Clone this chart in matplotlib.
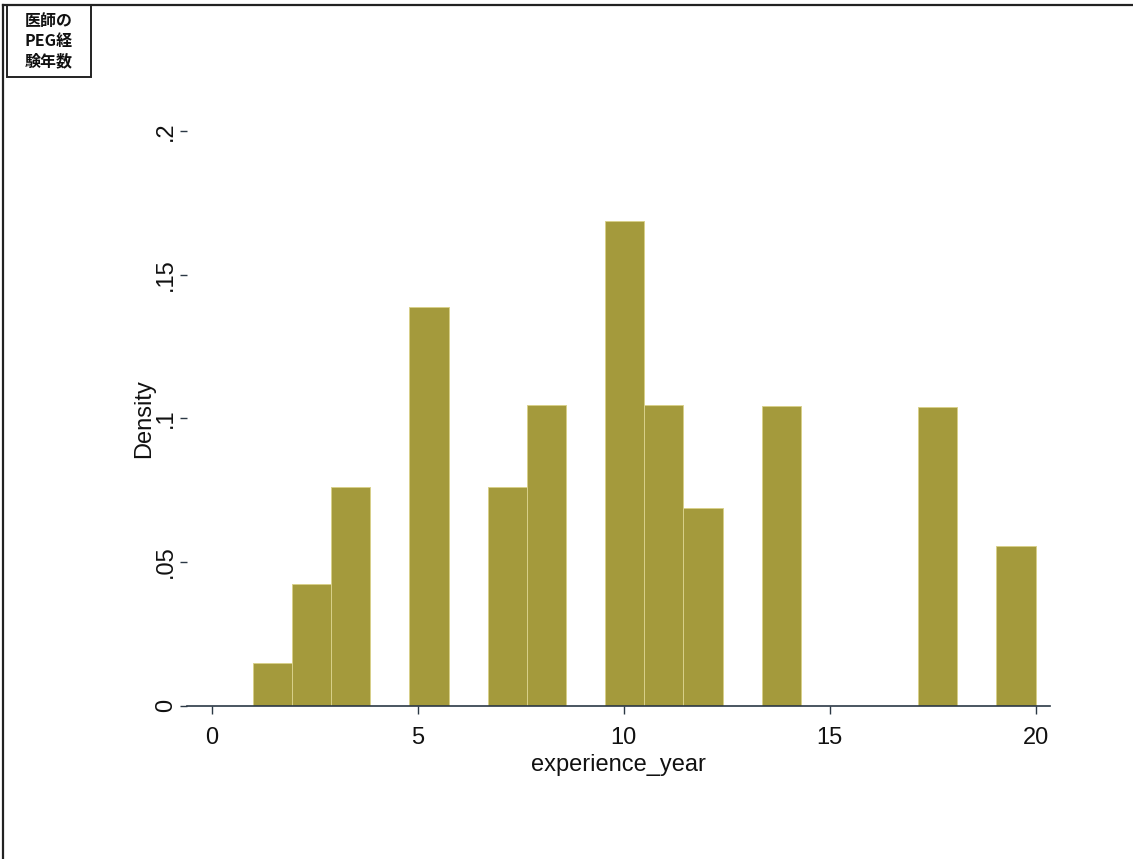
import matplotlib
matplotlib.use("Agg")
import matplotlib.pyplot as plt
from matplotlib.patches import Rectangle
from matplotlib.lines import Line2D
import numpy as np

# Data: histogram of experience_year (20 bins from 1 to 20, width 0.95)
bin_start = 1.0
bin_width = 0.95
densities = [0.0150, 0.0424, 0.0761, 0.0, 0.1388, 0.0, 0.0761, 0.1047, 0.0,
             0.1687, 0.1047, 0.0688, 0.0, 0.1043, 0.0, 0.0, 0.0, 0.1040, 0.0, 0.0556]
x_ticks = [0, 5, 10, 15, 20]
y_ticks = [0, 0.05, 0.10, 0.15, 0.20]
y_tick_labels = ["0", ".05", ".1", ".15", ".2"]
x_label = "experience_year"
y_label = "Density"
corner_label = ["医師の", "PEG経", "験年数"]

W, H = 1133, 859
fig = plt.figure(figsize=(W / 100, H / 100), dpi=100)
fig.patch.set_facecolor("white")

def fx(px):
    return px / W

def fy(py):
    return 1 - py / H

# axes placement
left, right, bottom, top = 187, 1050, 705.7, 131
ax = fig.add_axes([fx(left), fy(bottom), fx(right) - fx(left), fy(top) - fy(bottom)])
ax.set_xlim(-0.6, 20.35)
ax.set_ylim(0, 0.2)

edges = bin_start + bin_width * np.arange(len(densities))
ax.bar(edges, densities, width=bin_width, align="edge", color="#a49a3c",
       edgecolor="#d8d08a", linewidth=0.7)

for s in ["top", "right", "left"]:
    ax.spines[s].set_visible(False)
ax.spines["bottom"].set_color("#2b3845")
ax.spines["bottom"].set_linewidth(1.2)

font = ["Liberation Sans", "DejaVu Sans"]
ax.set_xticks(x_ticks)
ax.set_xticklabels([str(t) for t in x_ticks], fontsize=17, family=font, color="#111111")
ax.set_yticks(y_ticks)
ax.set_yticklabels(y_tick_labels, fontsize=17, family=font, color="#111111",
                   rotation=90, va="center")
ax.tick_params(axis="x", direction="out", length=6, width=1, color="#2b3845", pad=9)
ax.tick_params(axis="y", direction="out", length=5, width=1, color="#2b3845", pad=2)
ax.set_xlabel(x_label, fontsize=17, family=font, color="#111111", labelpad=4)
ax.set_ylabel(y_label, fontsize=17, family=font, color="#111111", labelpad=0)

# outer frame (left and top)
fig.add_artist(Line2D([fx(3), fx(3)], [fy(5), fy(859)], color="#222222", lw=1.6,
                      transform=fig.transFigure))
fig.add_artist(Line2D([fx(3), fx(1133)], [fy(5), fy(5)], color="#222222", lw=1.6,
                      transform=fig.transFigure))

# corner label box
fig.add_artist(Rectangle((fx(7), fy(77)), fx(91) - fx(7), fy(5) - fy(77),
                         transform=fig.transFigure, fill=False,
                         edgecolor="#222222", lw=1.4))
for i, line in enumerate(corner_label):
    fig.text(fx(49), fy(21 + 20 * i), line, fontsize=11.5, fontweight="bold",
             style="italic", family=["Noto Sans CJK JP", "DejaVu Sans"],
             ha="center", va="center", color="#111111")

fig.savefig("out.png", dpi=100)
